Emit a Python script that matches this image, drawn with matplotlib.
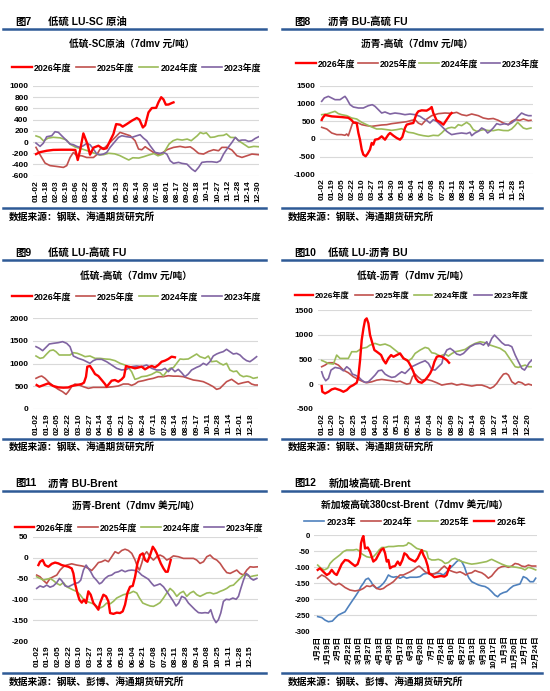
import matplotlib
matplotlib.use("Agg")
import matplotlib.pyplot as plt
from matplotlib.lines import Line2D

plt.rcParams["font.family"] = ["Liberation Sans", "Noto Sans CJK SC"]
plt.rcParams["font.weight"] = "bold"
plt.rcParams["axes.unicode_minus"] = False

# ---------------- data (x = position in tick units, y = spread) ----------------
# 图7 低硫-SC原油
p7_ticks = ["01-02", "01-18", "02-03", "02-19", "03-06", "03-22", "04-08", "04-24", "05-13", "05-29", "06-14",
            "06-30", "07-16", "08-01", "08-17", "09-02", "09-18", "10-11", "10-27", "11-12", "11-28", "12-14", "12-30"]
p7_x26 = [0, 0.4, 1.06, 1.7, 2.5, 3.4, 3.9, 4.14, 4.37, 4.7, 5.1, 5.36, 5.7, 6.19, 6.69, 7.0, 7.35, 7.68, 7.95, 8.34,
          8.6, 9.0, 9.5, 10.0, 10.26, 10.6, 10.83, 11.16, 11.49, 11.92, 12.15, 12.42, 12.65, 12.88, 13.15, 13.48, 13.64]
p7_y26 = [-215, -180, -155, -140, -137, -137, -140, -320, -150, 155, -35, -225, -100, -65, -125, -110, 24, 143, 320, 310,
          275, 320, 380, 430, 400, 260, 300, 530, 607, 610, 710, 800, 760, 667, 670, 697, 708]
p7_x25 = [0, 0.4, 0.9, 1.39, 2.05, 2.72, 3.05, 3.38, 3.71, 4.04, 4.54, 5.03, 5.7, 6.03, 6.36, 6.85, 7.35, 7.85, 8.34,
          8.84, 9.34, 9.83, 10.17, 10.5, 10.83, 11.16, 11.66, 12.15, 12.48, 12.98, 13.64, 14.3, 14.8, 15.3, 15.63, 16.13,
          16.62, 17.12, 17.62, 18.11, 18.44, 18.94, 19.44, 19.93, 20.43, 20.93, 21.42, 22.09]
p7_y25 = [-95, -226, -375, -420, -435, -452, -420, -275, -185, -240, -245, -275, -275, -226, -125, -95, -5, 83, 173,
          143, 113, 24, -125, -137, -83, -125, -185, -226, -202, -137, -95, -77, -95, -85, -125, -202,
          -214, -167, -137, -155, -95, -95, -143, -244, -274, -244, -214, -226]
p7_x24 = [0, 0.4, 0.75, 1.2, 1.7, 2.4, 3.0, 3.4, 3.9, 4.5, 5.2, 5.8, 6.3, 6.7, 7.2, 7.8, 8.3, 8.8, 9.2, 9.6, 10.2, 10.7,
          11.2, 11.7, 12.1, 12.6, 12.9, 13.2, 13.6, 14.0, 14.5, 15.0, 15.4, 16.0, 16.3, 16.6, 16.9, 17.3, 17.7, 18.1,
          18.6, 18.9, 19.3, 19.8, 20.1, 20.6, 21.1, 21.6, 22.09]
p7_y24 = [110, 85, 20, 70, 85, 75, 40, -40, -90, -120, -160, -200, -230, -225, -200, -210, -240, -285, -320, -280, -285,
          -260, -230, -205, -245, -215, -125, -35, 24, 50, 36, 53, 24, 113, 170, 150, 165, 83, 90, 113,
          120, 145, 83, 80, 24, -35, -95, -77, -83]
p7_x23 = [0, 0.4, 0.73, 1.06, 1.56, 1.89, 2.22, 2.55, 3.05, 3.38, 3.71, 4.04, 4.37, 4.7, 5.03, 5.36, 5.7, 6.03, 6.36,
          6.69, 7.02, 7.35, 7.85, 8.18, 8.51, 9.0, 9.5, 10.0, 10.33, 10.66, 10.99, 11.32, 11.82, 12.32, 12.65, 12.98,
          13.31, 13.64, 14.14, 14.47, 14.97, 15.46, 15.79, 16.13, 16.46, 16.95, 17.45, 17.95, 18.28, 18.61, 18.94,
          19.44, 19.77, 20.1, 20.43, 20.76, 21.09, 21.42, 21.75, 22.09]
p7_y23 = [-18, -77, -20, 95, 113, 185, 173, 113, 24, -35, -47, -77, -95, -65, -24, -47, -125, -214, -226,
          -214, -185, -95, 12, 83, 113, 95, 83, 113, 131, 71, 24, -65, -185, -202, -185, -214,
          -333, -380, -362, -380, -393, -482, -524, -452, -362, -351, -351, -362, -333, -214, -125,
          -6, 83, 24, 36, 36, 12, 24, 65, 95]

# 图8 沥青-高硫
p8_ticks = ["01-02", "01-19", "02-05", "02-22", "03-10", "03-27", "04-13", "04-30", "05-18", "06-04", "06-21",
            "07-08", "07-25", "08-11", "08-28", "09-14", "10-08", "10-25", "11-11", "11-28", "12-15"]
p8_x26 = [0, 0.1, 0.33, 1.0, 1.98, 2.64, 2.98, 3.14, 3.47, 3.64, 3.8, 3.97, 4.13, 4.36, 4.56, 4.79, 4.96, 5.12, 5.29,
          5.62, 5.95, 6.28, 6.61, 6.78, 7.11, 7.44, 7.77, 8.0, 8.26, 8.43, 8.76, 9.09, 9.26, 9.42, 9.59, 9.92, 10.41,
          10.74, 10.91, 11.07, 11.4, 11.74, 12.07, 12.4, 12.73, 12.89]
p8_y26 = [540, 600, 680, 640, 620, 600, 530, 470, 450, 170, -20, -300, -443, -490, -415, -300, -113, -160, -20,
          0, 75, -20, 123, 170, 94, 28, -20, 57, 311, 405, 434, 452, 594, 717, 783, 811, 802,
          858, 905, 735, 528, 481, 405, 547, 688, 735]
p8_x25 = [0, 0.5, 0.99, 1.49, 1.98, 2.31, 2.48, 2.64, 2.81, 3.04, 3.31, 3.64, 3.97, 4.46, 4.96, 5.45, 5.95, 6.45, 6.94,
          7.44, 7.93, 8.43, 8.93, 9.26, 9.59, 9.92, 10.41, 10.91, 11.57, 12.23, 12.89, 13.39, 13.88, 14.38, 14.88,
          15.54, 16.03, 16.53, 17.02, 17.52, 18.02, 18.51, 18.84, 19.17, 19.67, 20.0, 20.5, 20.76]
p8_y25 = [330, 283, 170, 123, 123, 104, 141, 90, 236, 434, 471, 452, 405, 377, 358, 377, 396, 405, 434,
          452, 471, 490, 528, 547, 450, 405, 560, 660, 717, 735, 725, 754, 688, 660, 707,
          660, 594, 566, 580, 528, 452, 405, 500, 547, 528, 566, 519, 530]
p8_x24 = [0, 0.5, 0.99, 1.32, 1.65, 1.98, 2.48, 2.98, 3.47, 3.97, 4.46, 4.96, 5.45, 5.95, 6.45, 6.94, 7.44, 7.93, 8.26,
          8.6, 9.09, 9.59, 10.08, 10.58, 11.07, 11.57, 11.9, 12.23, 12.56, 12.89, 13.22, 13.55, 13.88, 14.38, 14.71,
          15.04, 15.37, 15.7, 16.03, 16.53, 17.02, 17.52, 18.02, 18.51, 18.84, 19.17, 19.44, 19.67, 20.0, 20.33, 20.76]
p8_y24 = [688, 707, 754, 783, 717, 688, 660, 594, 566, 471, 405, 340, 283, 283, 264, 245, 264, 292, 236,
          189, 170, 123, 94, 75, 104, 94, 170, 264, 311, 330, 311, 405, 377, 471, 405,
          264, 217, 240, 264, 240, 236, 264, 240, 236, 283, 377, 471, 405, 311, 283, 311]
p8_x23 = [0, 0.26, 0.66, 0.99, 1.32, 1.82, 2.15, 2.31, 2.48, 2.81, 3.14, 3.64, 4.13, 4.63, 5.02, 5.29, 5.62, 5.95, 6.28,
          6.78, 7.27, 7.77, 8.26, 8.76, 9.26, 9.75, 10.08, 10.41, 10.74, 11.07, 11.4, 11.74, 12.07, 12.4, 12.63, 12.89,
          13.39, 13.88, 14.38, 14.71, 14.88, 15.21, 15.54, 15.87, 16.2, 16.46, 16.69, 17.02, 17.36, 17.69, 18.18,
          18.51, 18.84, 19.17, 19.5, 19.83, 20.17, 20.5, 20.76]
p8_y23 = [1066, 1160, 1207, 1160, 1113, 1113, 1179, 1207, 1141, 971, 905, 877, 877, 943, 971, 924, 830, 735, 764,
          707, 735, 717, 688, 707, 688, 641, 575, 528, 452, 547, 500, 405, 311, 217, 170, 123,
          151, 170, 151, 189, 94, 170, 217, 311, 264, 170, 217, 311, 434, 405, 434,
          405, 452, 528, 641, 735, 688, 660, 660]

# 图9 低硫-高硫
p9_ticks = ["01-02", "01-19", "02-05", "02-22", "03-10", "03-27", "04-14", "05-04", "05-21", "06-07", "06-24",
            "07-11", "07-28", "08-14", "08-31", "09-17", "10-11", "10-28", "11-14", "12-01", "12-18"]
p9_x26 = [0.06, 0.31, 0.68, 1.15, 1.61, 2.08, 2.55, 3.01, 3.32, 3.79, 4.25, 4.47, 4.66, 4.78, 5.03, 5.28, 5.5, 5.81,
          6.12, 6.43, 6.58, 6.74, 7.05, 7.36, 7.67, 7.98, 8.2, 8.39, 8.6, 8.91, 9.22, 9.53, 9.84, 10.16, 10.47, 10.78,
          11.09, 11.4, 11.71, 12.02, 12.33, 12.64, 12.95]
p9_y26 = [524, 487, 520, 561, 502, 472, 465, 470, 502, 524, 546, 576, 708, 930, 945, 856, 767, 723,
          635, 546, 487, 530, 620, 635, 598, 650, 708, 945, 930, 915, 893, 910, 930, 871, 915, 945,
          915, 967, 1040, 1063, 1100, 1151, 1137]
p9_x25 = [0, 0.31, 0.53, 0.84, 1.24, 1.61, 2.08, 2.48, 2.8, 3.01, 3.32, 3.63, 4.04, 4.41, 4.88, 5.34, 5.96, 6.58, 7.2,
          7.67, 8.14, 8.6, 8.91, 9.22, 9.53, 10.0, 10.47, 10.93, 11.4, 11.86, 12.33, 12.8, 13.26, 13.73, 14.19,
          14.66, 15.12, 15.59, 16.06, 16.52, 16.83, 17.14, 17.45, 17.76, 18.23, 18.54, 18.85, 19.32, 19.78, 20.09,
          20.4, 20.71]
p9_y25 = [672, 708, 723, 672, 576, 502, 428, 376, 317, 376, 487, 546, 524, 487, 450, 472, 472, 472, 487,
          502, 546, 546, 516, 546, 598, 620, 650, 672, 708, 708, 730, 720, 720, 708, 672,
          635, 620, 598, 546, 487, 428, 450, 524, 598, 650, 598, 546, 576, 598, 546, 524, 524]
p9_x24 = [0, 0.37, 0.68, 0.99, 1.3, 1.61, 1.86, 2.17, 2.7, 3.17, 3.48, 3.85, 4.25, 4.57, 5.03, 5.5, 5.96, 6.43, 6.89,
          7.36, 7.83, 8.29, 8.6, 8.91, 9.22, 9.53, 9.84, 10.31, 10.78, 11.24, 11.55, 11.86, 12.17, 12.48, 12.8, 13.11,
          13.42, 13.73, 14.19, 14.66, 14.97, 15.28, 15.75, 16.06, 16.37, 16.83, 17.14, 17.45, 17.76, 18.07, 18.39,
          18.7, 19.01, 19.32, 19.63, 19.94, 20.25, 20.71]
p9_y24 = [1166, 1114, 1130, 1210, 1284, 1300, 1262, 1188, 1188, 1188, 1240, 1225, 1188, 1151, 1166, 1114, 1114, 1100,
          1092, 1063, 1004, 967, 915, 819, 650, 672, 708, 723, 760, 819, 800, 723, 819, 893, 908, 1004,
          1100, 1092, 1100, 1166, 1210, 1151, 1114, 1166, 1040, 1055, 1004, 967, 1004, 856, 819,
          834, 745, 708, 723, 708, 672, 694]
p9_x23 = [0, 0.31, 0.62, 0.93, 1.24, 1.61, 2.08, 2.48, 2.86, 3.17, 3.48, 3.94, 4.41, 4.72, 5.03, 5.34, 5.65, 6.12, 6.58,
          7.05, 7.52, 7.98, 8.45, 8.91, 9.38, 9.84, 10.31, 10.78, 11.24, 11.71, 12.02, 12.33, 12.64, 12.95, 13.26,
          13.57, 13.88, 14.19, 14.5, 14.97, 15.28, 15.59, 15.9, 16.21, 16.52, 16.83, 17.14, 17.45, 17.76, 18.07,
          18.39, 18.7, 19.01, 19.32, 19.63, 19.94, 20.25, 20.56]
p9_y23 = [1373, 1336, 1284, 1358, 1432, 1446, 1461, 1483, 1446, 1373, 1166, 1114, 1077, 1040, 1004, 1063, 1092, 1092,
          1040, 967, 893, 856, 871, 930, 945, 930, 967, 893, 856, 856, 893, 819, 893, 819, 871,
          797, 708, 767, 856, 915, 945, 1004, 967, 1040, 1166, 1210, 1240, 1262, 1314, 1262,
          1210, 1225, 1188, 1114, 1063, 1040, 1092, 1151]

# 图10 低硫-沥青
p10_ticks = ["01-02", "01-20", "02-07", "02-25", "03-14", "04-01", "04-20", "05-11", "05-29", "06-16", "07-04",
             "07-22", "08-09", "08-27", "09-14", "10-09", "10-27", "11-14", "12-02", "12-20"]
p10_x26 = [0, 0.06, 0.31, 0.62, 0.92, 1.23, 1.69, 2.0, 2.31, 2.62, 2.92, 3.23, 3.38, 3.54, 3.69, 3.85, 4.0, 4.15, 4.31,
           4.46, 4.68, 4.86, 5.08, 5.29, 5.48, 5.69, 5.91, 6.15, 6.4, 6.62, 6.92, 7.23, 7.54, 7.85, 8.0, 8.25, 8.46,
           8.68, 8.92, 9.23, 9.54, 9.78, 10.0, 10.22, 10.4, 10.62, 10.83, 11.08, 11.32, 11.54, 11.75]
p10_y26 = [-40, -156, -190, -156, -108, -88, -122, -156, -122, -54, -20, 27, 149, 488, 895, 1132, 1302, 1336, 1234,
           997, 827, 692, 658, 624, 590, 488, 420, 522, 590, 556, 590, 624, 522, 488, 454, 353, 251,
           115, 47, 27, 81, 149, 217, 319, 454, 556, 570, 556, 522, 488, 434]
p10_x25 = [0, 0.31, 0.62, 1.08, 1.54, 2.0, 2.46, 2.92, 3.38, 3.85, 4.15, 4.62, 5.08, 5.54, 6.0, 6.46, 6.92, 7.23, 7.54,
           7.85, 8.15, 8.37, 8.62, 8.86, 9.23, 9.69, 10.15, 10.62, 11.08, 11.54, 12.0, 12.46, 12.92, 13.38, 13.85,
           14.31, 14.77, 15.23, 15.54, 15.85, 16.15, 16.46, 16.77, 17.02, 17.23, 17.54, 17.85, 18.15, 18.46, 18.77,
           19.08, 19.38]
p10_y25 = [353, 386, 434, 434, 386, 285, 231, 149, 95, 47, 27, 47, 81, 95, 81, 68, 47, 60, 27,
           0, 14, 149, 203, 149, 81, 95, 68, 27, -20, 0, 14, -20, 0, -20, -40,
           -20, -20, -54, -88, -54, 14, 115, 203, 217, 183, 47, 0, 47, 27, -20, 0, -20]
p10_x24 = [0, 0.15, 0.62, 1.08, 1.38, 1.69, 2.15, 2.46, 2.77, 3.23, 3.69, 4.15, 4.46, 4.92, 5.38, 5.85, 6.31, 6.77,
           7.23, 7.69, 8.0, 8.31, 8.62, 9.08, 9.54, 9.85, 10.15, 10.46, 10.92, 11.38, 11.69, 12.0, 12.31, 12.77, 13.23,
           13.69, 14.15, 14.62, 15.08, 15.54, 16.0, 16.46, 16.92, 17.23, 17.54, 17.85, 18.15, 18.46, 18.77, 19.08,
           19.38]
p10_y24 = [480, 468, 420, 407, 590, 522, 522, 522, 658, 658, 726, 746, 793, 827, 793, 814, 773, 692,
           610, 502, 475, 522, 624, 692, 746, 726, 637, 624, 570, 610, 570, 620, 658, 678, 705,
           773, 827, 861, 841, 793, 760, 726, 658, 556, 454, 353, 339, 366, 386, 353, 353]
p10_x23 = [0, 0.15, 0.37, 0.62, 0.86, 1.23, 1.69, 2.0, 2.31, 2.62, 2.83, 3.08, 3.38, 3.69, 4.0, 4.31, 4.62, 4.92, 5.23,
           5.54, 5.85, 6.15, 6.46, 6.77, 7.08, 7.38, 7.69, 8.0, 8.31, 8.62, 9.08, 9.54, 9.85, 10.15, 10.46, 10.77,
           11.08, 11.23, 11.54, 11.85, 12.15, 12.46, 12.77, 13.08, 13.38, 13.69, 14.15, 14.62, 14.92, 15.23, 15.38,
           15.69, 15.94, 16.25, 16.62, 16.92, 17.23, 17.54, 17.85, 18.15, 18.46, 18.71, 18.92, 19.14, 19.38]
p10_y23 = [250, 149, 68, 115, 285, 339, 319, 271, 353, 298, 203, 183, 149, 81, 34, 47, 115, 183, 271,
           285, 203, 163, 136, 149, 203, 251, 217, 285, 353, 386, 434, 475, 420, 298, 285, 353,
           420, 556, 692, 726, 678, 610, 590, 624, 692, 760, 814, 827, 793, 861, 773,
           929, 997, 929, 841, 793, 793, 760, 590, 454, 319, 285, 353, 434, 488]

# 图11 沥青-Brent
p11_ticks = ["01-02", "01-19", "02-05", "02-22", "03-10", "03-27", "04-13", "04-30", "05-18", "06-04", "06-21",
             "07-08", "07-25", "08-11", "08-28", "09-14", "10-08", "10-25", "11-11", "11-28", "12-15"]
p11_x26 = [0.16, 0.31, 0.56, 0.78, 1.09, 1.41, 1.72, 2.03, 2.34, 2.66, 2.97, 3.28, 3.44, 3.59, 3.81, 4.0, 4.22, 4.44,
           4.63, 4.84, 5.06, 5.31, 5.56, 5.78, 5.94, 6.25, 6.5, 6.72, 6.88, 7.19, 7.5, 7.81, 8.06, 8.28, 8.5, 8.75,
           9.0, 9.22, 9.44, 9.69, 9.94, 10.16, 10.38, 10.63, 10.88, 11.09, 11.25, 11.41, 11.63, 11.88, 12.09, 12.28,
           12.44, 12.56]
p11_y26 = [-18, -10, -6, -18, -22, -15, -12, -14, -18, -20, -22, -26, -38, -62, -85, -101, -108, -101,
           -109, -81, -89, -109, -117, -125, -109, -89, -93, -105, -133, -135, -132, -133, -129, -113, -85, -70,
           -68, -46, -14, 6, 10, -6, -10, 6, 26, 18, 10, 0, -14, -26, -34, -34, -18, -6]
p11_x25 = [0, 0.31, 0.63, 0.94, 1.25, 1.56, 1.88, 2.19, 2.5, 2.81, 3.28, 3.75, 4.22, 4.53, 4.84, 5.16, 5.47, 5.78,
           6.09, 6.41, 6.72, 7.03, 7.34, 7.66, 7.97, 8.28, 8.59, 8.91, 9.22, 9.44, 9.63, 9.84, 10.06, 10.31, 10.63,
           10.94, 11.25, 11.56, 11.88, 12.19, 12.5, 12.81, 13.28, 13.75, 14.22, 14.69, 15.0, 15.31, 15.63, 15.94,
           16.25, 16.56, 16.88, 17.19, 17.5, 17.81, 18.13, 18.44, 18.75, 19.06, 19.38, 19.69, 20.0, 20.31, 20.78]
p11_y25 = [-42, -46, -55, -62, -50, -46, -42, -30, -22, -18, -15, -18, -20, -22, -26, -31, -22, -12,
           -10, -6, -10, 2, 14, 10, 17, 20, 17, 10, -6, -22, -30, -14, 6, 14, 2,
           -6, 2, 6, 2, -6, -2, 4, 2, -2, -2, -2, -6, -14, -10, 2,
           6, -2, -6, -14, -26, -36, -38, -34, -30, -38, -42, -30, -22, -23, -22]
p11_x24 = [0, 0.31, 0.63, 0.94, 1.25, 1.56, 1.88, 2.19, 2.5, 2.81, 3.13, 3.44, 3.75, 4.06, 4.38, 4.69, 5.0, 5.31, 5.63,
           5.94, 6.25, 6.56, 6.88, 7.19, 7.5, 7.81, 8.13, 8.44, 8.75, 9.06, 9.38, 9.63, 9.94, 10.31, 10.63, 10.94,
           11.25, 11.56, 11.88, 12.19, 12.5, 12.81, 13.13, 13.44, 13.75, 14.06, 14.38, 14.69, 15.0, 15.31, 15.63,
           15.94, 16.25, 16.56, 16.88, 17.19, 17.5, 17.81, 18.13, 18.44, 18.75, 19.06, 19.38, 19.69, 20.0, 20.31,
           20.78]
p11_y24 = [-46, -50, -54, -52, -50, -55, -62, -66, -60, -70, -74, -78, -81, -89, -100, -105, -108, -111, -117,
           -121, -117, -109, -111, -105, -97, -93, -89, -87, -85, -81, -85, -97, -109, -113, -116, -117,
           -113, -108, -97, -85, -74, -81, -93, -85, -81, -93, -85, -81, -89, -93, -89,
           -85, -84, -87, -85, -81, -78, -74, -68, -66, -58, -50, -42, -42, -46, -44, -42]
p11_x23 = [0, 0.31, 0.63, 0.94, 1.25, 1.56, 1.88, 2.13, 2.34, 2.66, 2.97, 3.28, 3.59, 3.91, 4.13, 4.38, 4.63, 4.84,
           5.06, 5.31, 5.63, 5.88, 6.09, 6.41, 6.72, 7.03, 7.34, 7.66, 7.97, 8.28, 8.59, 8.91, 9.22, 9.53, 9.84, 10.16,
           10.47, 10.78, 11.0, 11.25, 11.56, 11.88, 12.19, 12.5, 12.81, 13.06, 13.31, 13.59, 13.91, 14.22, 14.53,
           14.84, 15.16, 15.47, 15.78, 16.09, 16.31, 16.56, 16.81, 17.03, 17.25, 17.5, 17.75, 18.06, 18.38, 18.69,
           18.91, 19.13, 19.38, 19.63, 19.84, 20.06, 20.31, 20.63]
p11_y23 = [-74, -68, -71, -66, -71, -68, -60, -50, -55, -68, -70, -66, -62, -60, -54, -30, -18, -26,
           -34, -46, -55, -63, -60, -50, -44, -42, -36, -34, -30, -34, -31, -30, -31, -34, -42, -47,
           -52, -62, -68, -66, -63, -70, -81, -93, -105, -116, -109, -93, -97, -109, -117,
           -125, -132, -133, -132, -133, -125, -145, -156, -149, -133, -105, -100, -101, -97, -100,
           -93, -74, -54, -38, -42, -50, -54, -50]

# 图12 新加坡高硫380cst-Brent
p12_ticks = ["1月2日", "1月19日", "2月5日", "2月22日", "3月10日", "3月27日", "4月13日", "4月30日", "5月17日", "6月3日",
             "6月20日", "7月7日", "7月24日", "8月10日", "8月27日", "9月13日", "9月30日", "10月17日", "11月3日",
             "11月20日", "12月7日", "12月24日"]
p12_x23 = [0, 0.39, 0.71, 1.03, 1.41, 1.67, 1.99, 2.31, 2.63, 2.95, 3.28, 3.6, 3.92, 4.17, 4.4, 4.62, 4.88, 5.14, 5.36,
           5.68, 6.01, 6.33, 6.55, 6.81, 7.06, 7.29, 7.61, 7.93, 8.25, 8.57, 8.9, 9.22, 9.54, 9.86, 10.18, 10.5, 10.82,
           11.14, 11.46, 11.79, 12.11, 12.43, 12.75, 13.07, 13.39, 13.62, 13.87, 14.13, 14.35, 14.58, 14.84, 15.16,
           15.48, 15.8, 16.12, 16.44, 16.76, 17.08, 17.34, 17.57, 17.89, 18.21, 18.53, 18.85, 19.17, 19.49, 19.81,
           20.13, 20.46, 20.78, 21.0]
p12_y23 = [-255, -258, -266, -271, -269, -260, -250, -245, -240, -224, -208, -193, -177, -161, -151, -139, -135, -146,
           -159, -167, -161, -151, -141, -125, -130, -132, -130, -135, -130, -135, -132, -132, -132, -130, -122, -120,
           -120, -122, -120, -120, -125, -115, -104, -94, -83, -78, -83, -99, -120, -135, -146, -151,
           -156, -159, -161, -167, -177, -188, -193, -185, -180, -177, -167, -159, -156, -153, -130,
           -135, -146, -146, -135]
p12_x24 = [0, 0.39, 0.71, 1.03, 1.41, 1.73, 2.06, 2.31, 2.63, 3.11, 3.6, 4.08, 4.4, 4.72, 5.04, 5.36, 5.68, 6.01, 6.33,
           6.65, 6.97, 7.29, 7.61, 7.93, 8.25, 8.57, 8.9, 9.22, 9.54, 9.76, 10.02, 10.34, 10.66, 10.98, 11.3, 11.62,
           11.95, 12.2, 12.43, 12.75, 13.07, 13.39, 13.71, 14.03, 14.26, 14.52, 14.84, 15.16, 15.48, 15.8, 16.12,
           16.44, 16.76, 17.08, 17.4, 17.73, 18.05, 18.37, 18.69, 19.01, 19.33, 19.65, 19.97, 20.3, 20.62, 21.0]
p12_y24 = [-135, -125, -130, -139, -151, -156, -151, -156, -164, -172, -175, -172, -167, -159, -161, -156, -167, -170,
           -167, -159, -153, -146, -135, -125, -125, -120, -115, -109, -101, -97, -104, -115, -120, -122, -120, -115,
           -104, -97, -104, -111, -115, -118, -115, -120, -125, -120, -118, -111, -115, -118, -125,
           -135, -128, -115, -104, -99, -97, -101, -97, -89, -91, -97, -99, -94, -97, -97]
p12_x25 = [0, 0.32, 0.64, 0.96, 1.19, 1.51, 1.83, 2.15, 2.47, 2.79, 3.11, 3.44, 3.76, 3.98, 4.17, 4.4, 4.72, 5.04, 5.36,
           5.68, 5.91, 6.17, 6.49, 6.81, 7.29, 7.77, 8.25, 8.57, 8.73, 8.99, 9.22, 9.54, 9.86, 10.18, 10.5, 10.66,
           10.98, 11.3, 11.62, 11.95, 12.27, 12.59, 12.91, 13.23, 13.55, 13.87, 14.19, 14.52, 14.84, 15.32, 15.8,
           16.28, 16.6, 16.76, 17.08, 17.4, 17.73, 18.21, 18.69, 19.17, 19.65, 19.97, 20.3, 20.62, 21.0]
p12_y25 = [-94, -104, -109, -104, -89, -78, -70, -62, -52, -47, -47, -47, -45, -49, -57, -62, -68, -70, -68,
           -57, -47, -39, -39, -36, -36, -34, -34, -31, -24, -28, -34, -42, -45, -49, -52, -73,
           -78, -78, -76, -80, -89, -86, -76, -73, -78, -83, -86, -89, -91, -89, -86,
           -83, -78, -76, -81, -86, -91, -97, -99, -101, -104, -109, -101, -104, -109]
p12_x26 = [0, 0.22, 0.55, 0.87, 1.12, 1.35, 1.61, 1.83, 2.06, 2.31, 2.63, 2.95, 3.28, 3.6, 3.85, 4.08, 4.17, 4.3, 4.4,
           4.56, 4.82, 5.04, 5.2, 5.36, 5.62, 5.84, 6.1, 6.33, 6.49, 6.65, 6.81, 6.97, 7.19, 7.45, 7.71, 7.93, 8.16,
           8.35, 8.57, 8.8, 9.06, 9.38, 9.63, 9.86, 10.02, 10.18, 10.4, 10.6, 10.73, 10.98, 11.24, 11.56, 11.88, 12.2,
           12.43, 12.59, 12.75]
p12_y26 = [-109, -104, -115, -125, -120, -109, -120, -125, -109, -91, -78, -80, -89, -97, -91, -68, -26, -10, -3,
           -42, -39, -52, -68, -83, -76, -62, -47, -42, -57, -83, -78, -104, -99, -97, -83, -94, -78,
           -57, -62, -73, -78, -83, -73, -57, -47, -62, -76, -97, -120, -125, -132, -130, -128, -130,
           -125, -109, -97]

# ---------------- styling ----------------
C26, C25, C24, C23 = "#ff0000", "#c0504d", "#9bbb59", "#8064a2"
C23_BLUE = "#4f81bd"
BAR_BLUE = "#2e5a96"
GRID = "#d9d9d9"
W, H = 550, 691

fig = plt.figure(figsize=(5.5, 6.91), dpi=100)


def fx(px):
    return px / W


def fy(py):
    return 1 - py / H


def hline(x0, x1, y, lw=1.8):
    fig.add_artist(Line2D([fx(x0), fx(x1)], [fy(y), fy(y)], transform=fig.transFigure,
                          color=BAR_BLUE, lw=lw))


def panel(box, t0, step, ticks, ylim, yticks, series, leg_xy, leg_fs, leg_cs,
          head, head_y, name, name_x, ctitle, ct_xy, src, src_y, tick_fs=6.0):
    left, top, right, bottom = box
    ax = fig.add_axes([fx(left), fy(bottom), fx(right) - fx(left), (bottom - top) / H])
    ax.set_xlim((left - t0) / step, (right - t0) / step)
    ax.set_ylim(*ylim)
    for s in ax.spines.values():
        s.set_visible(False)
    ax.set_yticks(yticks)
    ax.set_yticklabels([str(v) for v in yticks], fontsize=tick_fs, fontweight="bold")
    ax.set_xticks(range(len(ticks)))
    ax.set_xticklabels(ticks, rotation=90, fontsize=tick_fs, fontweight="bold")
    ax.tick_params(length=0, pad=3.2)
    ax.grid(axis="y", color=GRID, lw=0.8)
    ax.set_axisbelow(True)
    for xs, ys, col, lw, lab, z in series:
        ax.plot(xs, ys, color=col, lw=lw, label=lab, zorder=z, solid_joinstyle="round")
    handles, labels = ax.get_legend_handles_labels()
    ax.legend(handles, labels, loc="center", bbox_to_anchor=(fx(leg_xy[0]), fy(leg_xy[1])),
              bbox_transform=fig.transFigure, ncol=4, frameon=False, fontsize=leg_fs,
              handlelength=2.2, handletextpad=0.2, columnspacing=leg_cs, borderpad=0, borderaxespad=0)
    x_l = 3 if left < 275 else 282
    x_r = 266 if left < 275 else 542
    fig.text(fx(x_l + 12.5), fy(head_y), head, fontsize=7.5, fontweight="bold", va="center")
    fig.text(fx(name_x), fy(head_y), name, fontsize=7.5, fontweight="bold", va="center")
    hline(x_l, x_r, head_y + 7.5)
    fig.text(fx(ct_xy[0]), fy(ct_xy[1]), ctitle, fontsize=7, fontweight="bold", ha="center", va="center")
    hline(x_l, x_r, src_y - 8.5)
    fig.text(fx(x_l + 5.5), fy(src_y), src, fontsize=7, fontweight="bold", va="center")
    return ax


def four(x26, y26, x25, y25, x24, y24, x23, y23):
    return [(x26, y26, C26, 1.7, "2026年度", 5),
            (x25, y25, C25, 1.2, "2025年度", 3),
            (x24, y24, C24, 1.2, "2024年度", 3),
            (x23, y23, C23, 1.2, "2023年度", 4)]


src1 = "数据来源：钢联、海通期货研究所"
src2 = "数据来源：钢联、彭博、海通期货研究所"

panel((33, 86, 259.3, 175.7), 36, 10.08, p7_ticks, (-600, 1000), list(range(-600, 1001, 200)),
      four(p7_x26, p7_y26, p7_x25, p7_y25, p7_x24, p7_y24, p7_x23, p7_y23),
      (136.7, 68), 6.4, 0.5, "图7", 21.7, "低硫 LU-SC 原油", 47.7,
      "低硫-SC原油（7dmv 元/吨）", (131.7, 44), src1, 216.7)

panel((320, 86, 533, 174.3), 321.7, 10.08, p8_ticks, (-1000, 1500), list(range(-1000, 1501, 500)),
      four(p8_x26, p8_y26, p8_x25, p8_y25, p8_x24, p8_y24, p8_x23, p8_y23),
      (418, 64), 6.4, 0.3, "图8", 21.7, "沥青 BU-高硫 FU", 328.3,
      "沥青-高硫（7dmv 元/吨）", (417.5, 43.5), src1, 216.7)

panel((33, 318.3, 258.3, 408.7), 36, 10.73, p9_ticks, (0, 2000), list(range(0, 2001, 500)),
      four(p9_x26, p9_y26, p9_x25, p9_y25, p9_x24, p9_y24, p9_x23, p9_y23),
      (136.7, 297), 6.4, 0.5, "图9", 252.7, "低硫 LU-高硫 FU", 47.7,
      "低硫-高硫（7dmv 元/吨）", (135.5, 276), src1, 447.3)

panel((317.7, 310.3, 531.7, 408.7), 321.7, 10.84, p10_ticks, (-500, 1500), list(range(-500, 1501, 500)),
      four(p10_x26, p10_y26, p10_x25, p10_y25, p10_x24, p10_y24, p10_x23, p10_y23),
      (411.7, 296), 5.9, 0.65, "图10", 252.7, "低硫 LU-沥青 BU", 328.3,
      "低硫-沥青（7dmv 元/吨）", (413, 276), src1, 447.3)

panel((33, 536.7, 258.3, 641), 36.7, 10.67, p11_ticks, (-200, 50), list(range(-200, 51, 50)),
      four(p11_x26, p11_y26, p11_x25, p11_y25, p11_x24, p11_y24, p11_x23, p11_y23),
      (139, 528), 6.4, 0.5, "图11", 483.3, "沥青 BU-Brent", 48.3,
      "沥青-Brent（7dmv 美元/吨）", (135.8, 506.7), src2, 681.7)

p12_series = [(p12_x23, p12_y23, C23_BLUE, 1.2, "2023年", 3),
              (p12_x24, p12_y24, C25, 1.2, "2024年", 3),
              (p12_x25, p12_y25, C24, 1.2, "2025年", 3),
              (p12_x26, p12_y26, C26, 1.7, "2026年", 5)]
panel((314.3, 535, 537.3, 631), 317.7, 10.38, p12_ticks, (-300, 0), list(range(-300, 1, 50)),
      p12_series, (415, 522), 6.6, 0.55, "图12", 483.3, "新加坡高硫-Brent", 328.3,
      "新加坡高硫380cst-Brent（7dmv 美元/吨）", (415, 506), src2, 681.7, tick_fs=5.6)

fig.savefig("out.png", dpi=100)
